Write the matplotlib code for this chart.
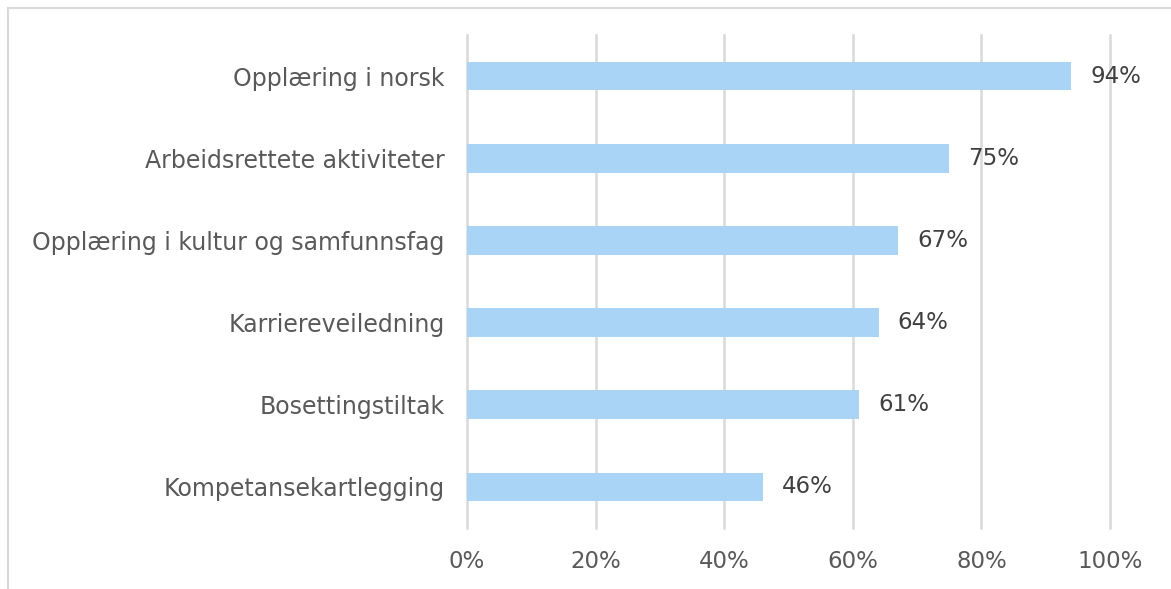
import matplotlib.pyplot as plt
from matplotlib.lines import Line2D

categories = [
    "Opplæring i norsk",
    "Arbeidsrettete aktiviteter",
    "Opplæring i kultur og samfunnsfag",
    "Karriereveiledning",
    "Bosettingstiltak",
    "Kompetansekartlegging",
]
values = [94, 75, 67, 64, 61, 46]
xticks = [0, 20, 40, 60, 80, 100]

W, H = 1171, 589
fig = plt.figure(figsize=(W / 100, H / 100), dpi=100)
ax = fig.add_axes([467 / W, 1 - 528 / H, (1110 - 467) / W, (528 - 35) / H])

ypos = list(range(len(categories)))[::-1]
ax.barh(ypos, values, height=0.35, color="#A9D4F5", zorder=3)

for y, v in zip(ypos, values):
    ax.text(v + 3, y, f"{v}%", va="center", ha="left", fontsize=16.5, color="#404040")

ax.set_xlim(0, 100)
ax.set_ylim(-0.5, len(categories) - 0.5)
ax.set_xticks(xticks)
ax.set_xticklabels([f"{t}%" for t in xticks])
ax.set_yticks(ypos)
ax.set_yticklabels(categories, fontsize=17)
ax.tick_params(axis="both", length=0, colors="#595959")
ax.tick_params(axis="x", pad=16, labelsize=16.5)
ax.tick_params(axis="y", pad=16)
ax.grid(axis="x", color="#D9D9D9", linewidth=1.8, zorder=0)
for gl in ax.get_xgridlines():
    gl.set_clip_on(False)
for s in ax.spines.values():
    s.set_visible(False)

# outer chart border (only top and left visible)
fig.add_artist(Line2D([8 / W, 8 / W], [0, 1 - 8 / H], color="#D9D9D9", lw=1.5))
fig.add_artist(Line2D([8 / W, 1], [1 - 8 / H, 1 - 8 / H], color="#D9D9D9", lw=1.5))

fig.savefig("out.png", dpi=100, facecolor="white")
